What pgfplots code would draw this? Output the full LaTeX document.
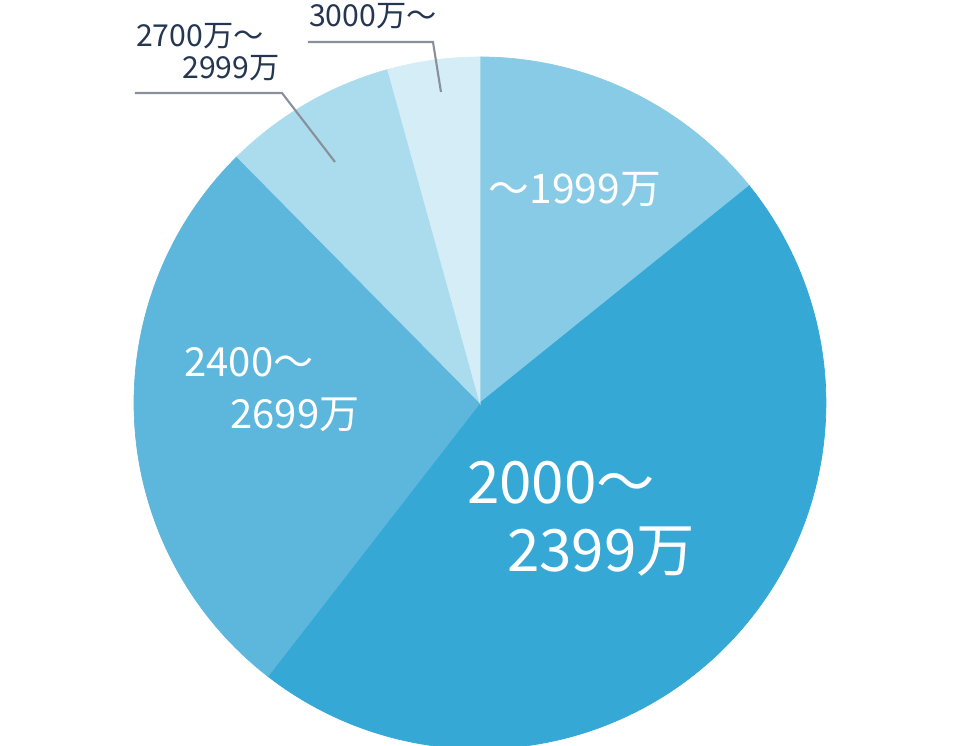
\documentclass[border=0pt]{standalone}
\usepackage{pgfplots}
\usepackage{pgfplotstable}
\pgfplotsset{compat=1.18}
\usepackage{fontspec}
\setmainfont{Noto Sans CJK JP}
\newfontfamily\cjk{Noto Sans CJK JP}
\definecolor{s1}{HTML}{88CBE6}
\definecolor{s2}{HTML}{36A8D5}
\definecolor{s3}{HTML}{5DB6DC}
\definecolor{s4}{HTML}{AADCEE}
\definecolor{s5}{HTML}{D4EDF7}
\definecolor{navy}{HTML}{253650}
\definecolor{leader}{HTML}{8A9099}
\pgfplotstableread{
idx value col
0 14.2 s1
1 46.3 s2
2 27.1 s3
3 8.1 s4
4 4.3 s5
}\piedata
\begin{document}
\begin{tikzpicture}
\useasboundingbox (0,0) rectangle (9.6cm,7.46cm);
\clip (0,0) rectangle (9.6cm,7.46cm);
\begin{axis}[scale only axis, width=9.6cm, height=7.46cm, at={(0,0)}, anchor=south west,
  xmin=0, xmax=960, ymin=0, ymax=746, hide axis, clip=true]
\xdef\cumsum{0}
\pgfplotsinvokeforeach{0,...,4}{%
  \pgfplotstablegetelem{#1}{value}\of\piedata \let\sliceval\pgfplotsretval
  \pgfplotstablegetelem{#1}{col}\of\piedata \let\slicecol\pgfplotsretval
  \pgfmathparse{90-3.6*\cumsum}\let\angstart\pgfmathresult
  \pgfmathparse{\cumsum+\sliceval}\xdef\cumsum{\pgfmathresult}
  \pgfmathparse{90-3.6*\cumsum}\let\angend\pgfmathresult
  \edef\doplot{\noexpand\addplot[fill=\slicecol, draw=\slicecol, line width=0.2pt, domain=\angend:\angstart, samples=120]
    ({480+346*cos(x)},{343+346*sin(x)}) -- (axis cs:480,343) -- cycle;}
  \doplot
}
% leader lines
\addplot[leader, line width=0.6pt] coordinates {(308,704) (433,704) (441,654)};
\addplot[leader, line width=0.6pt] coordinates {(135,653) (282,653) (335,584)};
% labels
\node[text=white, font=\cjk\fontsize{11.6}{13}\selectfont] at (axis cs:575,556) {〜1999万};
\node[text=white, font=\cjk\fontsize{11.4}{13}\selectfont] at (axis cs:249,384) {2400〜};
\node[text=white, font=\cjk\fontsize{11.4}{13}\selectfont] at (axis cs:295,331) {2699万};
\node[text=white, font=\cjk\fontsize{16.6}{18}\selectfont] at (axis cs:561,263) {2000〜};
\node[text=white, font=\cjk\fontsize{16.6}{18}\selectfont] at (axis cs:601,194) {2399万};
\node[text=navy, font=\cjk\fontsize{8.6}{10}\selectfont] at (axis cs:373,730) {3000万〜};
\node[text=navy, font=\cjk\fontsize{8.6}{10}\selectfont] at (axis cs:200,710) {2700万〜};
\node[text=navy, font=\cjk\fontsize{8.6}{10}\selectfont] at (axis cs:231,678) {2999万};
\end{axis}
\end{tikzpicture}
\end{document}
